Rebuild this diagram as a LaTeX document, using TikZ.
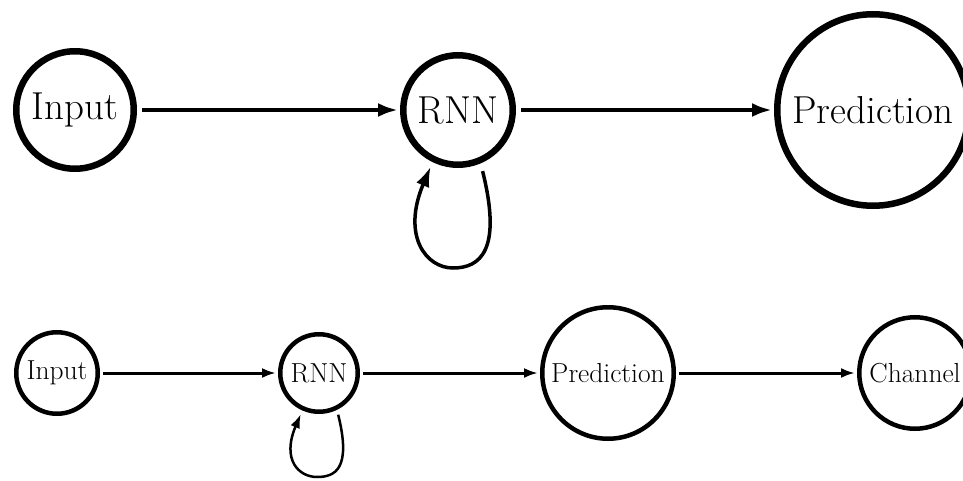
\documentclass[tikz,border=0pt]{standalone}
\usepackage{fontspec}
\usetikzlibrary{arrows.meta}
\tikzset{
    state/.style = {draw, circle, inner sep=0pt, line width=6.5pt,
        font=\fontsize{39}{44}\selectfont},
    smallstate/.style = {draw, circle, inner sep=0pt, line width=4.5pt,
        font=\fontsize{27.5}{32}\selectfont},
    arrow/.style = {draw, -{Latex[length=20pt,width=14pt]}, line width=4.5pt,
        shorten <=5pt, shorten >=2pt},
    smallarrow/.style = {draw, -{Latex[length=14pt,width=10pt]}, line width=3pt,
        shorten <=3pt, shorten >=2pt},
    feedback/.style = {draw, -{Latex[length=20pt,width=14pt]}, line width=3.5pt,
        shorten <=8pt, shorten >=5pt},
    smallfeedback/.style = {draw, -{Latex[length=14pt,width=10pt]}, line width=2.5pt,
        shorten <=5pt, shorten >=4pt}
}

\begin{document}
\begin{tikzpicture}[x=1pt, y=1pt]
            \useasboundingbox (0,0) rectangle (963,480);
            \clip (0,0) rectangle (963,480);
            \node [state, minimum size=117.5pt] (inA) at (75,370) {Input};
            \node [state, minimum size=109.5pt, right of=inA, node distance=383pt] (rnnA) {RNN};
            \node [state, minimum size=191.5pt, right of=rnnA, node distance=415pt] (predA) {Prediction};
            \coordinate (loopA) at (453,212);
            \draw [arrow] (inA) -- (rnnA);
            \draw [arrow] (rnnA) -- (predA);
            \draw [feedback] (rnnA.-67) .. controls +(-76:90) and +(0:27) .. (loopA)
                .. controls +(180:27) and +(-113:80) .. (rnnA.-116);
            \node [smallstate, minimum size=81.5pt] (inB) at (57,107) {Input};
            \node [smallstate, minimum size=77.5pt, right of=inB, node distance=262pt] (rnnB) {RNN};
            \node [smallstate, minimum size=131.5pt, right of=rnnB, node distance=289pt] (predB) {Prediction};
            \node [smallstate, minimum size=111.5pt, right of=predB, node distance=307pt] (chanB) {Channel};
            \coordinate (loopB) at (317,3);
            \draw [smallarrow] (inB) -- (rnnB);
            \draw [smallarrow] (rnnB) -- (predB);
            \draw [smallarrow] (predB) -- (chanB);
            \draw [smallfeedback] (rnnB.-64) .. controls +(-76:61) and +(0:18) .. (loopB)
                .. controls +(180:18) and +(-113:54) .. (rnnB.-114);
        \end{tikzpicture}
\end{document}
